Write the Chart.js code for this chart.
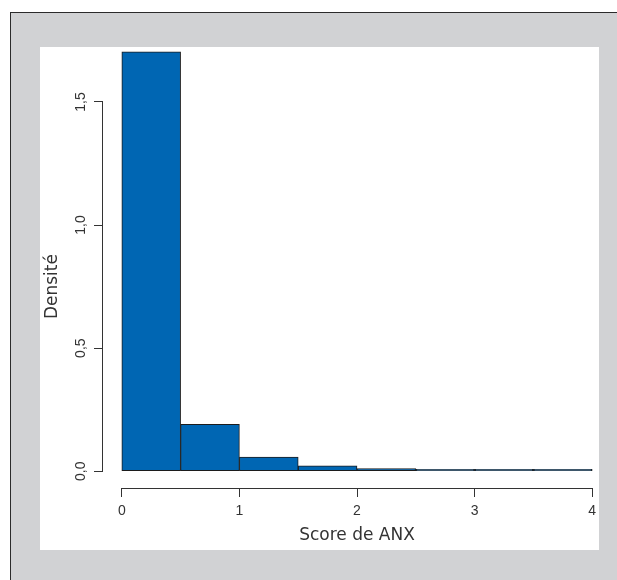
<!DOCTYPE html>
<html><head><meta charset="utf-8">
<script src="https://cdn.jsdelivr.net/npm/chart.js@4.4.1/dist/chart.umd.min.js"></script>
<style>
html,body{margin:0;padding:0;width:617px;height:580px;overflow:hidden;background:#fff;}
#frame{position:absolute;left:10px;top:12px;width:607px;height:568px;background:#d1d2d4;border-left:1px solid #2b2b2b;border-top:1px solid #2b2b2b;box-sizing:border-box;}
#panel{position:absolute;left:40px;top:47px;width:559px;height:503px;background:#fff;}
#wrap{position:absolute;left:0;top:0;width:617px;height:580px;overflow:hidden;}
canvas{display:block;}
</style></head><body>
<div id="frame"></div><div id="panel"></div>
<div id="wrap"><canvas id="c" width="617" height="580"></canvas></div>
<script>
// ---- data ----
const binEdges = [0, 0.5, 1, 1.5, 2, 2.5, 3, 3.5, 4];
const densities = [1.704, 0.190, 0.057, 0.022, 0.011, 0.004, 0.001, 0.001];
const xTicks = [0, 1, 2, 3, 4];
const xTickLabels = ['0', '1', '2', '3', '4'];
const yTicks = [0, 0.5, 1, 1.5];
const yTickLabels = ['0,0', '0,5', '1,0', '1,5'];
const xTitle = 'Score de ANX';
const yTitle = 'Densité';

// ---- derived ----
const points = densities.map((d, i) => ({ x: (binEdges[i] + binEdges[i + 1]) / 2, y: d }));
const xRange = binEdges[binEdges.length - 1] - binEdges[0];
const yMaxData = Math.max(...densities);

const INK = '#333333';
const tickFont = { family: '"Liberation Sans", Arial, sans-serif', size: 14 };
const titleFont = { family: '"DejaVu Sans", sans-serif', size: 17 };

const rAxes = {
  id: 'rAxes',
  afterDraw(chart) {
    const { ctx, scales: { x, y }, chartArea } = chart;
    ctx.save();
    ctx.strokeStyle = INK;
    ctx.lineWidth = 1;
    const yb = Math.round(chartArea.bottom) + 0.5;
    ctx.beginPath();
    ctx.moveTo(Math.round(x.getPixelForValue(xTicks[0])), yb);
    ctx.lineTo(Math.round(x.getPixelForValue(xTicks[xTicks.length - 1])) + 1, yb);
    ctx.stroke();
    const xl = Math.round(chartArea.left) - 0.5;
    ctx.beginPath();
    ctx.moveTo(xl, Math.round(y.getPixelForValue(yTicks[0])) + 1);
    ctx.lineTo(xl, Math.round(y.getPixelForValue(yTicks[yTicks.length - 1])));
    ctx.stroke();
    // y axis title, centred on the axis line
    const cy = (y.getPixelForValue(yTicks[0]) + y.getPixelForValue(yTicks[yTicks.length - 1])) / 2;
    ctx.translate(53, cy);
    ctx.rotate(-Math.PI / 2);
    ctx.font = titleFont.size + 'px ' + titleFont.family;
    ctx.fillStyle = INK;
    ctx.textAlign = 'center';
    ctx.textBaseline = 'middle';
    ctx.fillText(yTitle, 0, 0);
    ctx.restore();
  }
};

new Chart(document.getElementById('c'), {
  type: 'bar',
  data: {
    datasets: [{
      data: points,
      backgroundColor: '#0066b3',
      borderColor: '#1c1c1c',
      borderWidth: 1,
      borderSkipped: false,
      minBarLength: 2,
      barPercentage: 1,
      categoryPercentage: 1
    }]
  },
  options: {
    responsive: false,
    animation: false,
    devicePixelRatio: 1,
    layout: { padding: { top: 35, right: 6, left: 0, bottom: 0 } },
    plugins: { legend: { display: false }, tooltip: { enabled: false } },
    scales: {
      x: {
        type: 'linear',
        offset: false,
        min: binEdges[0] - 0.04 * xRange,
        max: binEdges[binEdges.length - 1] + 0.04 * xRange,
        afterBuildTicks: s => { s.ticks = xTicks.map(v => ({ value: v })); },
        afterFit: s => { s.height = 92; },
        border: { display: false },
        grid: { offset: false, drawOnChartArea: false, drawTicks: true, tickLength: 9, tickColor: INK, tickWidth: 1 },
        ticks: {
          font: tickFont, color: INK, padding: 6, maxRotation: 0, autoSkip: false,
          callback: (v) => xTickLabels[xTicks.indexOf(v)]
        },
        title: { display: true, text: xTitle, font: titleFont, color: INK, padding: { top: 0, bottom: 34 } }
      },
      y: {
        type: 'linear',
        min: -0.04 * yMaxData,
        max: 1.04 * yMaxData,
        afterBuildTicks: s => { s.ticks = yTicks.map(v => ({ value: v })); },
        afterFit: s => { s.width = 103; },
        border: { display: false },
        grid: { drawOnChartArea: false, drawTicks: true, tickLength: 9, tickColor: INK, tickWidth: 1 },
        ticks: {
          font: tickFont, color: INK, padding: 3, minRotation: 90, maxRotation: 90,
          crossAlign: 'center', autoSkip: false,
          callback: (v) => yTickLabels[yTicks.indexOf(v)]
        }
      }
    }
  },
  plugins: [rAxes]
});
</script>
</body></html>
